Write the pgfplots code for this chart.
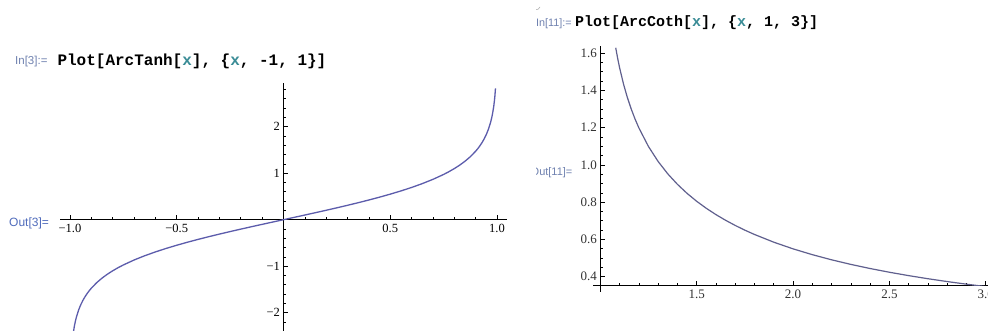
\documentclass[border=0pt]{standalone}
\usepackage{pgfplots}
\pgfplotsset{compat=1.18}
\usepackage{fontspec}
\setmainfont{Liberation Serif}
\newfontfamily\codefont{Liberation Mono}
\newfontfamily\uifont{Liberation Sans}

\definecolor{curveA}{RGB}{92,92,172}
\definecolor{curveB}{RGB}{96,96,142}
\definecolor{inlabel}{RGB}{112,130,176}
\definecolor{outlabel}{RGB}{80,108,188}
\definecolor{varcol}{RGB}{58,140,150}

\newcommand{\vx}{\textcolor{varcol}{x}}

\pgfplotsset{
  mmaplot/.style={
    scale only axis,
    axis line style={-, line width=0.8pt, black},
    major tick length=4.5pt,
    minor tick length=2.6pt,
    every tick/.style={black, line width=0.7pt},
    clip=true,
  }
}

\begin{document}
\begin{tikzpicture}[x=1pt,y=1pt]
\clip (0,0) rectangle (988,331);
\fill[white] (0,0) rectangle (988,331);

% ---------- ArcTanh on [-1,1] ----------
\node[anchor=base west, inner sep=0pt, text=inlabel, font=\uifont\fontsize{11.5}{12}\selectfont] at (15,266.5) {In[3]:=};
\node[anchor=base west, inner sep=0pt, font=\codefont\bfseries\fontsize{16}{16}\selectfont] at (57.3,265)
  {Plot[ArcTanh[\vx], \{\vx, -1, 1\}]};
\node[anchor=base west, inner sep=0pt, text=outlabel, font=\uifont\fontsize{12}{12}\selectfont] at (9,104.5) {Out[3]=};

\begin{axis}[mmaplot,
  at={(60pt,0pt)}, anchor=south west,
  width=447pt, height=248pt,
  xmin=-1.047, xmax=1.047, ymin=-2.394, ymax=2.94,
  axis lines=middle,
  axis line style={-},
  tick align=inside,
  xtick={-1,-0.5,0.5,1}, xticklabels={−1.0,−0.5,0.5,1.0},
  minor xtick={-0.9,-0.8,-0.7,-0.6,-0.4,-0.3,-0.2,-0.1,0.1,0.2,0.3,0.4,0.6,0.7,0.8,0.9},
  ytick={-2,-1,1,2}, yticklabels={−2,−1,1,2},
  minor ytick={-2.2,-1.8,-1.6,-1.4,-1.2,-0.8,-0.6,-0.4,-0.2,0.2,0.4,0.6,0.8,1.2,1.4,1.6,1.8,2.2,2.4,2.6,2.8},
  ticklabel style={font=\fontsize{12.5}{12.5}\selectfont, text=black},
  xticklabel style={yshift=-0.5pt},
]
\addplot[curveA, line width=1.3pt] coordinates {
(-0.993,-2.8257) (-0.99,-2.64665) (-0.988,-2.5550) (-0.985,-2.4427) (-0.98,-2.29756)
(-0.975,-2.18473) (-0.97,-2.09229) (-0.96,-1.94591) (-0.95,-1.83178) (-0.94,-1.73805)
(-0.93,-1.65839) (-0.92,-1.58903) (-0.91,-1.52752) (-0.9,-1.47222) (-0.875,-1.35403)
(-0.85,-1.25615) (-0.825,-1.17228) (-0.8,-1.09861) (-0.775,-1.03273) (-0.75,-0.97296)
(-0.7,-0.86730) (-0.65,-0.77530) (-0.6,-0.69315) (-0.55,-0.61838) (-0.5,-0.54931)
(-0.45,-0.48470) (-0.4,-0.42365) (-0.35,-0.36544) (-0.3,-0.30952) (-0.25,-0.25541)
(-0.2,-0.20273) (-0.15,-0.15114) (-0.1,-0.10034) (-0.05,-0.05004) (0,0)
(0.05,0.05004) (0.1,0.10034) (0.15,0.15114) (0.2,0.20273) (0.25,0.25541)
(0.3,0.30952) (0.35,0.36544) (0.4,0.42365) (0.45,0.48470) (0.5,0.54931)
(0.55,0.61838) (0.6,0.69315) (0.65,0.77530) (0.7,0.86730) (0.75,0.97296)
(0.775,1.03273) (0.8,1.09861) (0.825,1.17228) (0.85,1.25615) (0.875,1.35403)
(0.9,1.47222) (0.91,1.52752) (0.92,1.58903) (0.93,1.65839) (0.94,1.73805)
(0.95,1.83178) (0.96,1.94591) (0.97,2.09229) (0.975,2.18473) (0.98,2.29756)
(0.985,2.4427) (0.988,2.5550) (0.99,2.64665) (0.993,2.8257)
};
\end{axis}

% ---------- ArcCoth on [1,3] ----------
\begin{scope}
\clip (536,0) rectangle (988,331);
\draw[gray!60, line width=0.6pt] (530,326) .. controls (534,320) and (538,320) .. (540,324);
\node[anchor=base west, inner sep=0pt, text=inlabel, font=\uifont\fontsize{10.8}{11}\selectfont] at (536,304.5) {In[11]:=};
\node[anchor=base west, inner sep=0pt, font=\codefont\bfseries\fontsize{15}{15}\selectfont] at (575,304)
  {Plot[ArcCoth[\vx], \{\vx, 1, 3\}]};
\node[anchor=base west, inner sep=0pt, text=inlabel, font=\uifont\fontsize{11}{11}\selectfont] at (530.5,155) {Out[11]=};

\begin{axis}[mmaplot,
  at={(600.3pt,45.4pt)}, anchor=south west,
  width=399pt, height=239.3pt,
  xmin=1, xmax=3.07, ymin=0.352, ymax=1.637,
  axis lines=left,
  axis line style={-},
  tick align=inside,
  xtick={1.5,2,2.5,3}, xticklabels={1.5,2.0,2.5,3.0},
  minor xtick={1.1,1.2,1.3,1.4,1.6,1.7,1.8,1.9,2.1,2.2,2.3,2.4,2.6,2.7,2.8,2.9},
  ytick={0.4,0.6,0.8,1.0,1.2,1.4,1.6}, yticklabels={0.4,0.6,0.8,1.0,1.2,1.4,1.6},
  minor ytick={0.45,0.5,0.55,0.65,0.7,0.75,0.85,0.9,0.95,1.05,1.1,1.15,1.25,1.3,1.35,1.45,1.5,1.55},
  ticklabel style={font=\fontsize{13}{13}\selectfont, text=black!80},
  xticklabel style={yshift=-1pt},
]
\addplot[curveB, line width=1.2pt] coordinates {
(1.08,1.62905) (1.09,1.57255) (1.1,1.52226) (1.12,1.43584) (1.14,1.36347)
(1.16,1.30135) (1.18,1.24706) (1.2,1.19895) (1.25,1.09861) (1.3,1.01844)
(1.35,0.95212) (1.4,0.89588) (1.45,0.84729) (1.5,0.80472) (1.55,0.76697)
(1.6,0.73317) (1.65,0.70267) (1.7,0.67496) (1.75,0.64964) (1.8,0.62638)
(1.9,0.58504) (2.0,0.54931) (2.1,0.51805) (2.2,0.49041) (2.3,0.46578)
(2.4,0.44365) (2.5,0.42365) (2.6,0.40547) (2.7,0.38885) (2.8,0.37361)
(2.9,0.35956) (3.0,0.34657)
};
\end{axis}
\draw[black, line width=0.8pt] (593,45.4) -- (600.3,45.4) -- (600.3,39.3);
\end{scope}
\end{tikzpicture}
\end{document}
